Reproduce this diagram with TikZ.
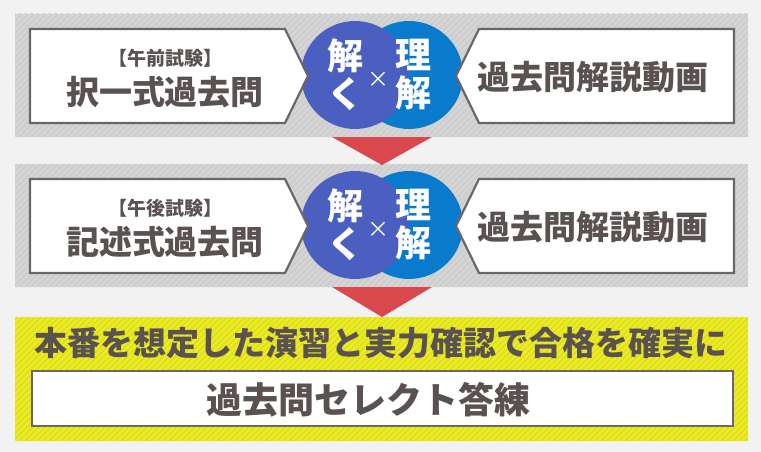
\documentclass[tikz,border=0pt]{standalone}
\usepackage{fontspec}
\newfontfamily\jp{Noto Sans CJK JP}
\definecolor{bg}{HTML}{F2F2F2}
\definecolor{band}{HTML}{CCCCCC}
\definecolor{bandstripe}{HTML}{D5D5D5}
\definecolor{lemon}{HTML}{E2E200}
\definecolor{lemonstripe}{HTML}{E9E93C}
\definecolor{boxline}{HTML}{6E6666}
\definecolor{textgray}{HTML}{5A5151}
\definecolor{tokublue}{HTML}{4A5FBF}
\definecolor{rikaiblue}{HTML}{0A7BCC}
\definecolor{arrowred}{HTML}{D9484D}
\tikzset{
  box/.style={draw=boxline, fill=white, line width=2.2pt, line join=miter},
  txt/.style={text=textgray, inner sep=0pt, font=\jp\bfseries},
  circtxt/.style={text=white, inner sep=0pt, align=center, font=\jp\bfseries\fontsize{36}{38}\selectfont}
}
\begin{document}
\begin{tikzpicture}[x=1pt, y=-1pt]
\useasboundingbox (0,0) rectangle (761,452);
\fill [bg] (0,0) rectangle (761,452);
\foreach \ya/\yb/\c/\s in {14/137/band/bandstripe, 164/287/band/bandstripe, 317/441/lemon/lemonstripe} {
  \fill [\c] (15,\ya) rectangle (748,\yb);
  \begin{scope}
    \clip (15,\ya) rectangle (748,\yb);
    \foreach \x in {-140,-134,...,760}
      \draw [\s, line width=2.2pt] (\x,\yb) -- ++(130,-130);
  \end{scope}
}
\fill [arrowred] (332,137) -- (432,137) -- (382,165) -- cycle;
\fill [arrowred] (332,287) -- (432,287) -- (382,317) -- cycle;
\foreach \y/\n/\exam/\kind in {0/1/午前試験/択一式過去問, 150/2/午後試験/記述式過去問} {
  \fill [rikaiblue] (409,75+\y) circle (54pt);
  \fill [tokublue] (355,75+\y) circle (54pt);
  \node [circtxt] (toku\n) at (345,75+\y) {解\\く};
  \node [circtxt] (rikai\n) at (413,75+\y) {理\\解};
  \node [circtxt, font=\jp\fontsize{22}{22}\selectfont] (kakeru\n) at (378,80+\y) {×};
  \draw [box] (30,29+\y) -- (285,29+\y) -- (308,76+\y) -- (285,123+\y) -- (30,123+\y) -- cycle;
  \draw [box] (479,29+\y) -- (734,29+\y) -- (734,123+\y) -- (479,123+\y) -- (456,76+\y) -- cycle;
  \node [txt, font=\jp\bfseries\fontsize{19}{19}\selectfont] (exam\n) at (165,58+\y) {【\exam】};
  \node [txt, font=\jp\bfseries\fontsize{33}{33}\selectfont] (kakomon\n) at (165,92+\y) {\kind};
  \node [txt, font=\jp\bfseries\fontsize{33}{33}\selectfont] (douga\n) at (593,77+\y) {過去問解説動画};
}
\node [txt, font=\jp\bfseries\fontsize{33}{33}\selectfont] (honban) at (381,343) {本番を想定した演習と実力確認で合格を確実に};
\draw [box] (32,371) rectangle (733,426);
\node [txt, font=\jp\bfseries\fontsize{36}{36}\selectfont] (select) at (368,400) {過去問セレクト答練};
\end{tikzpicture}
\end{document}
